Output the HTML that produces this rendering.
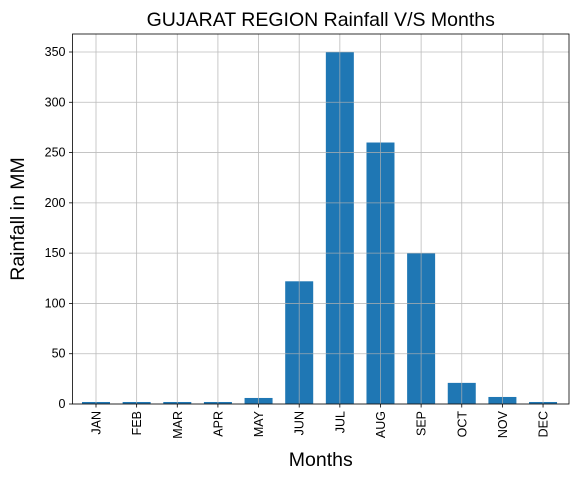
<!DOCTYPE html>
<html><head><meta charset="utf-8"><style>body{margin:0;background:#fff}svg{display:block;font-family:"Liberation Sans","DejaVu Sans",sans-serif}</style></head>
<body>
<svg id="chart" width="577" height="480"></svg>
<script>
const categories=["JAN","FEB","MAR","APR","MAY","JUN","JUL","AUG","SEP","OCT","NOV","DEC"];
const rainfall=[2,2,2,2,6,122,350,260,150,21,7,2];
const yTicks=[0,50,100,150,200,250,300,350];
const NS="http://www.w3.org/2000/svg";
const svg=document.getElementById('chart');
const L=72.5,R=569,T=34,B=404;
const x0=96,step=40.64,bw=28;
function xs(i){return x0+i*step;}
function ys(v){return B-v*(352/350);}
function mk(tag,attrs,parent){const e=document.createElementNS(NS,tag);for(const k in attrs)e.setAttribute(k,attrs[k]);(parent||svg).appendChild(e);return e;}
const bars=mk('g',{});


rainfall.forEach((v,i)=>{
  const r=mk('rect',{x:xs(i)-bw/2,y:ys(v),width:bw,height:B-ys(v),fill:'#1f77b4'},bars);
  
  
});
const grid=mk('g',{stroke:'#b0b0b0','stroke-width':0.8,opacity:0.85});


yTicks.forEach(t=>{mk('line',{x1:L,x2:R,y1:ys(t),y2:ys(t)},grid);});
categories.forEach((c,i)=>{mk('line',{x1:xs(i),x2:xs(i),y1:T,y2:B},grid);});
const frame=mk('rect',{x:L,y:T,width:R-L,height:B-T,fill:'none',stroke:'#000','stroke-width':0.8});


yTicks.forEach(t=>{
  mk('line',{x1:L-3.5,x2:L,y1:ys(t),y2:ys(t),stroke:'#000','stroke-width':0.8});
  const tx=mk('text',{x:L-7,y:ys(t)+4,'text-anchor':'end','font-size':12.5});
  tx.textContent=t;
  
  
});
categories.forEach((c,i)=>{
  mk('line',{x1:xs(i),x2:xs(i),y1:B,y2:B+3.5,stroke:'#000','stroke-width':0.8});
  const tx=mk('text',{x:0,y:0,'text-anchor':'end','font-size':12.5,transform:`translate(${xs(i)+4.5},${B+7}) rotate(-90)`});
  tx.textContent=c;
  
  
});
const title=mk('text',{x:(L+R)/2,y:26,'text-anchor':'middle','font-size':19.5});
title.textContent='GUJARAT REGION Rainfall V/S Months';


const xt=mk('text',{x:(L+R)/2,y:466,'text-anchor':'middle','font-size':19.5});
xt.textContent='Months';


const yt=mk('text',{x:0,y:0,'text-anchor':'middle','font-size':19.5,transform:`translate(24,${(T+B)/2}) rotate(-90)`});
yt.textContent='Rainfall in MM';


</script>
</body></html>
